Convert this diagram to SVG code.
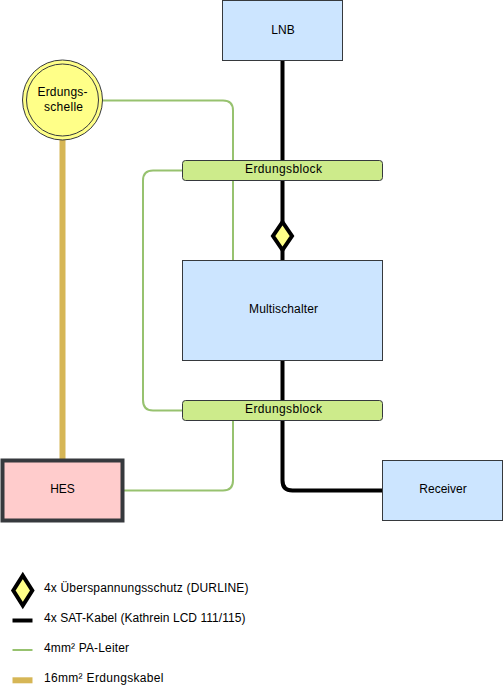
<svg xmlns="http://www.w3.org/2000/svg" width="503" height="691" viewBox="0 0 503 691">
<style>
text{font-family:"Liberation Sans",Arial,sans-serif;font-size:12px;fill:#000;text-anchor:middle}
.leg{text-anchor:start}
.box{fill:#cce5ff;stroke:#36393d;stroke-width:1}
.blk{fill:#cdeb8b;stroke:#36393d;stroke-width:1}
.pa{fill:none;stroke:#97c26f;stroke-width:2}
.sat{fill:none;stroke:#000;stroke-width:4}
.gnd{fill:none;stroke:#d6b656;stroke-width:6}
.dia{fill:#ffff88;stroke:#000;stroke-width:4}
</style>
<rect width="503" height="691" fill="#fff"/>
<g id="connectors">
<path class="gnd" d="M62.500 140V460"/>
<path class="pa" d="M102.500 100.500H223Q233 100.500 233 110.500V260.500"/>
<path class="pa" d="M182.500 170.500H153Q143 170.500 143 180.500V400Q143 410.500 153 410.500H182.500"/>
<path class="pa" d="M123 490.500H223Q233 490.500 233 480.500V420.500"/>
<path class="sat" d="M282.500 60V260.500"/>
<path class="sat" d="M282.500 360V480.500Q282.500 490.500 292.500 490.500H382.500"/>
</g>
<g id="lnb"><rect class="box" x="222.500" y="0.500" width="120" height="60"/><text x="283" y="34">LNB</text></g>
<g id="erdungsschelle"><circle cx="62.500" cy="100" r="40" fill="#ffff88" stroke="#36393d"/><circle cx="62.500" cy="100" r="36" fill="#ffff88" stroke="#36393d"/><text x="62.500" y="96" textLength="50">Erdungs-</text><text x="63.500" y="111" textLength="39">schelle</text></g>
<g id="erdungsblock1"><rect class="blk" x="182.500" y="160.500" width="200" height="20" rx="3"/><text x="283.500" y="173" textLength="77">Erdungsblock</text></g>
<g id="durline"><path class="dia" d="M282.500 222L292 236L282.500 250L273 236Z"/></g>
<g id="multischalter"><rect class="box" x="182.500" y="260.500" width="200" height="100"/><text x="283.500" y="313" textLength="69">Multischalter</text></g>
<g id="erdungsblock2"><rect class="blk" x="182.500" y="400.500" width="200" height="20" rx="3"/><text x="283.500" y="413" textLength="77">Erdungsblock</text></g>
<g id="hes"><rect x="2.500" y="460.500" width="120" height="60" fill="#ffcccc" stroke="#36393d" stroke-width="4"/><text x="62.500" y="493">HES</text></g>
<g id="receiver"><rect class="box" x="382.500" y="460.500" width="120" height="60"/><text x="443" y="493">Receiver</text></g>
<g id="legend">
<path class="dia" d="M22.800 575.500L32.300 590.500L22.800 605.500L13.300 590.500Z"/>
<path fill="none" stroke="#000" stroke-width="4" d="M12.500 620.500H32.500"/>
<path class="pa" d="M12.500 650H32.500"/>
<path fill="none" stroke="#d6b656" stroke-width="6" d="M12.500 680.300H32.500"/>
<text class="leg" x="44" y="592" textLength="204.500">4x Überspannungsschutz (DURLINE)</text>
<text class="leg" x="44" y="622" textLength="201.500">4x SAT-Kabel (Kathrein LCD 111/115)</text>
<text class="leg" x="44" y="652" textLength="85">4mm² PA-Leiter</text>
<text class="leg" x="44" y="682" textLength="119.500">16mm² Erdungskabel</text>
</g>
</svg>
